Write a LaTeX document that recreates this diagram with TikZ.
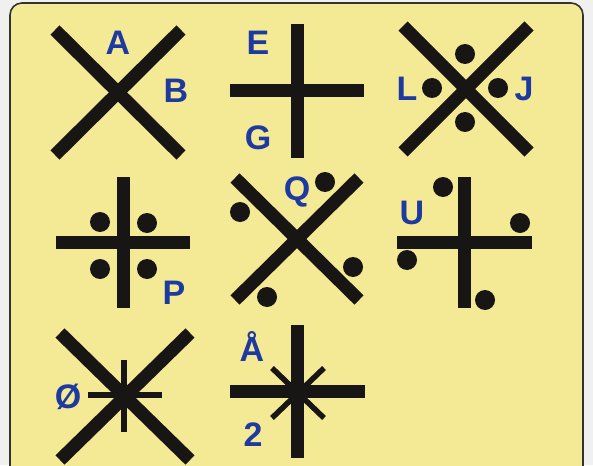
\documentclass[tikz,border=0pt]{standalone}
\usepackage{fontspec}
\setmainfont{Liberation Sans}
\definecolor{bgout}{RGB}{240,240,238}
\definecolor{panel}{RGB}{244,234,150}
\definecolor{ink}{RGB}{24,22,20}
\definecolor{lab}{RGB}{30,58,160}
\tikzset{
  bar/.style={draw=ink,line width=13pt},
  thinbar/.style={draw=ink,line width=5.5pt},
  dot/.style={fill=ink},
  lbl/.style={text=lab,font=\bfseries\fontsize{34}{34}\selectfont,inner sep=0pt}
}
\begin{document}
\begin{tikzpicture}[x=1pt,y=-1pt]
\useasboundingbox (0,0) rectangle (593,465);
\fill[bgout] (0,0) rectangle (593,465);
\begin{scope}
\clip (0,0) rectangle (593,465);
\draw[draw=black!80,line width=1.6pt,fill=panel,rounded corners=12pt] (10,3) rectangle (583,490);
\end{scope}
% 1: X with A,B
\draw[bar] (55,30) -- (181,155);
\draw[bar] (181,30) -- (55,155);
\node[lbl] (A) at (118,43) {A};
\node[lbl] (B) at (176,91) {B};
% 2: + with E,G
\draw[bar] (297,24) -- (297,158);
\draw[bar] (230,91) -- (364,91);
\node[lbl] (E) at (258,43) {E};
\node[lbl] (G) at (258,138) {G};
% 3: X with dots, L, J
\draw[bar] (403,26) -- (529,152);
\draw[bar] (529,26) -- (403,152);
\fill[dot] (465,54) circle (10);
\fill[dot] (432,88) circle (10);
\fill[dot] (498,88) circle (10);
\fill[dot] (465,122) circle (10);
\node[lbl] (L) at (407,89) {L};
\node[lbl] (J) at (524,89) {J};
% 4: + with four dots, P
\draw[bar] (123,177) -- (123,308);
\draw[bar] (56,242) -- (190,242);
\fill[dot] (100,222) circle (10);
\fill[dot] (147,223) circle (10);
\fill[dot] (100,269) circle (10);
\fill[dot] (147,269) circle (10);
\node[lbl] (P) at (174,293) {P};
% 5: X with dots, Q
\draw[bar] (235,178) -- (359,300);
\draw[bar] (359,178) -- (235,300);
\fill[dot] (325,182) circle (10);
\fill[dot] (240,212) circle (10);
\fill[dot] (353,267) circle (10);
\fill[dot] (267,297) circle (10);
\node[lbl] (Q) at (297,192) {Q};
% 6: + with dots, U
\draw[bar] (464,177) -- (464,308);
\draw[bar] (397,242) -- (532,242);
\fill[dot] (443,187) circle (10);
\fill[dot] (520,223) circle (10);
\fill[dot] (407,260) circle (10);
\fill[dot] (485,300) circle (10);
\node[lbl] (U) at (412,213) {U};
% 7: X with short +, Ø
\draw[bar] (60,333) -- (190,460);
\draw[bar] (190,333) -- (60,460);
\draw[thinbar] (88,395) -- (162,395);
\draw[thinbar] (124,360) -- (124,432);
\node[lbl] (O) at (68,397) {Ø};
% 8: + with short X, Å, 2
\draw[bar] (297,325) -- (297,458);
\draw[bar] (230,391) -- (365,391);
\draw[thinbar] (272,368) -- (324,418);
\draw[thinbar] (324,368) -- (272,418);
\node[lbl] (Aring) at (252,347) {Å};
\node[lbl] (two) at (253,435) {2};
\end{tikzpicture}
\end{document}
